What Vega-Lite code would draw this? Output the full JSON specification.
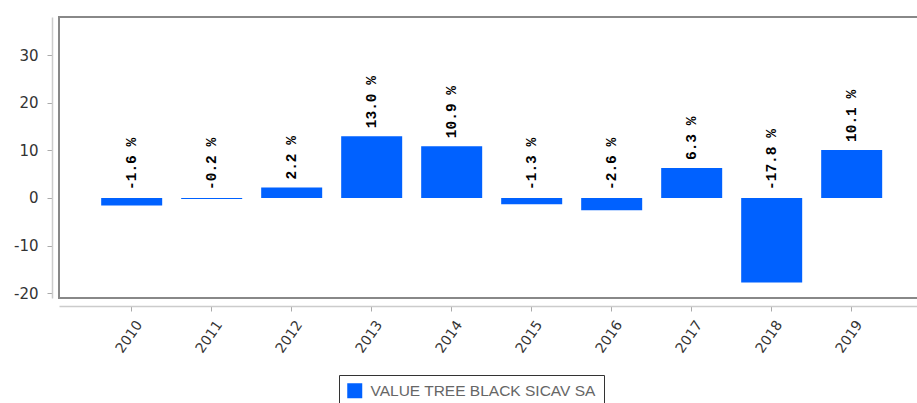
{
  "$schema": "https://vega.github.io/schema/vega-lite/v6.json",
  "autosize": "none",
  "padding": {"left": 59, "top": 17, "right": -2, "bottom": 105},
  "width": 860,
  "height": 281,
  "config": {
    "locale": {"number": {"decimal": ".", "thousands": ",", "grouping": [3], "currency": ["$", ""], "minus": "-"}},
    "view": {"stroke": "#888", "strokeWidth": 2},
    "axis": {"grid": false}
  },
  "data": {
    "values": [
      {"year": "2010", "value": -1.6, "series": "VALUE TREE BLACK SICAV SA"},
      {"year": "2011", "value": -0.2, "series": "VALUE TREE BLACK SICAV SA"},
      {"year": "2012", "value": 2.2, "series": "VALUE TREE BLACK SICAV SA"},
      {"year": "2013", "value": 13.0, "series": "VALUE TREE BLACK SICAV SA"},
      {"year": "2014", "value": 10.9, "series": "VALUE TREE BLACK SICAV SA"},
      {"year": "2015", "value": -1.3, "series": "VALUE TREE BLACK SICAV SA"},
      {"year": "2016", "value": -2.6, "series": "VALUE TREE BLACK SICAV SA"},
      {"year": "2017", "value": 6.3, "series": "VALUE TREE BLACK SICAV SA"},
      {"year": "2018", "value": -17.8, "series": "VALUE TREE BLACK SICAV SA"},
      {"year": "2019", "value": 10.1, "series": "VALUE TREE BLACK SICAV SA"}
    ]
  },
  "transform": [
    {"calculate": "format(datum.value, '.1f') + ' %'", "as": "label"}
  ],
  "encoding": {
    "x": {
      "field": "year", "type": "ordinal", "title": null,
      "scale": {"paddingInner": 0.2375, "paddingOuter": 0.49375, "align": 0.534},
      "axis": {
        "offset": 8, "domainColor": "#ccc", "domainWidth": 1.5, "tickColor": "#aaa", "tickSize": 5,
        "labelAngle": -55, "labelAlign": "right", "labelBaseline": "middle",
        "labelFont": "DejaVu Sans", "labelFontSize": 14, "labelColor": "#333", "labelPadding": 11, "labelOffset": 8
      }
    }
  },
  "layer": [
    {
      "mark": {"type": "bar", "color": "#0061ff"},
      "encoding": {
        "y": {
          "field": "value", "type": "quantitative", "title": null,
          "scale": {"domain": [-21.05, 38.1], "nice": false, "zero": false},
          "axis": {
            "values": [-20, -10, 0, 10, 20, 30], "offset": 7, "domainColor": "#ccc", "domainWidth": 1.5,
            "tickColor": "#aaa", "tickSize": 5, "labelFont": "DejaVu Sans", "labelFontSize": 15,
            "labelColor": "#333", "labelPadding": 9
          }
        },
        "fill": {
          "field": "series", "type": "nominal", "scale": {"range": ["#0061ff"]},
          "legend": {
            "orient": "none", "legendX": 280, "legendY": 358, "title": null,
            "strokeColor": "#333", "padding": 8, "symbolType": "square", "symbolSize": 225,
            "symbolStrokeWidth": 0, "labelFont": "Liberation Sans", "labelFontSize": 15.5,
            "labelColor": "#666", "labelOffset": 8, "labelLimit": 400
          }
        }
      }
    },
    {
      "transform": [{"filter": "datum.value >= 0"}],
      "mark": {"type": "text", "angle": 270, "align": "left", "baseline": "middle", "dx": 8, "font": "Liberation Mono", "fontWeight": "bold", "fontSize": 14.5, "color": "#000"},
      "encoding": {
        "y": {"field": "value", "type": "quantitative"},
        "text": {"field": "label"}
      }
    },
    {
      "transform": [{"filter": "datum.value < 0"}],
      "mark": {"type": "text", "angle": 270, "align": "left", "baseline": "middle", "dx": 8, "font": "Liberation Mono", "fontWeight": "bold", "fontSize": 14.5, "color": "#000"},
      "encoding": {
        "y": {"datum": 0, "type": "quantitative"},
        "text": {"field": "label"}
      }
    }
  ]
}
